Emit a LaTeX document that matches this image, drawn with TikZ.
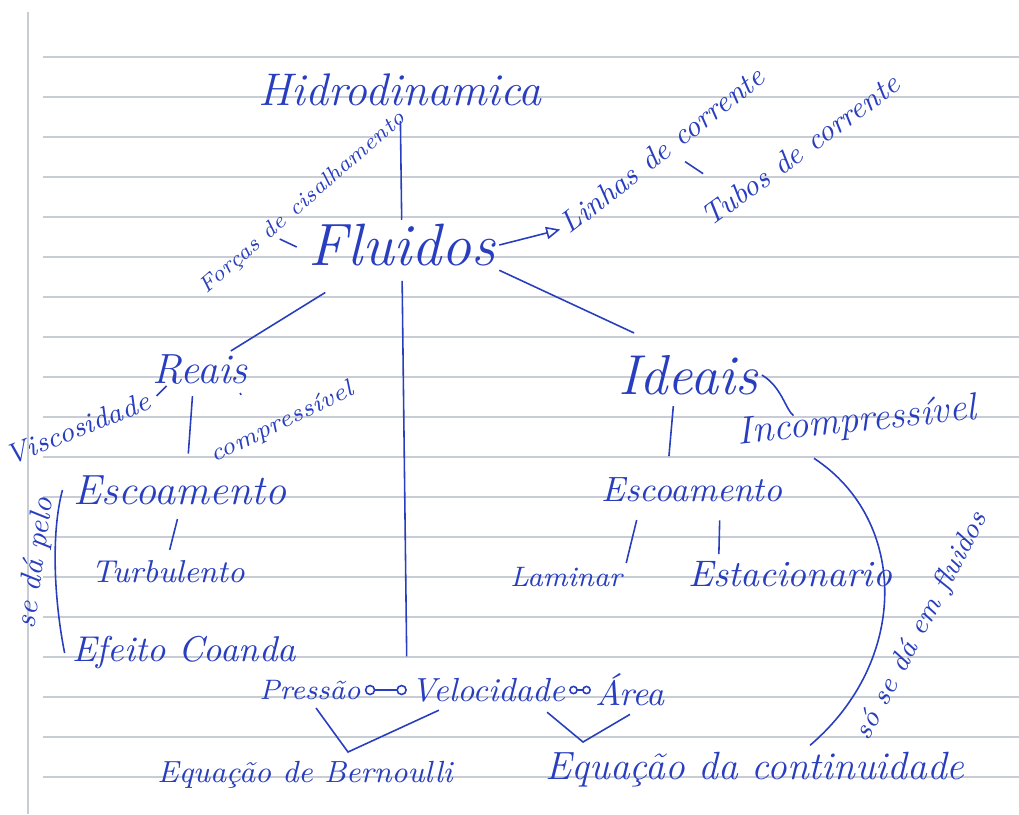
\documentclass[tikz,border=0pt]{standalone}
\usepackage{fontspec}
\usetikzlibrary{positioning,calc,arrows.meta}
\definecolor{ink}{RGB}{40,62,190}
\definecolor{paperline}{RGB}{200,204,212}
\newcommand{\hand}[1]{\fontsize{#1}{#1}\selectfont\itshape}

\begin{document}
\begin{tikzpicture}[x=0.01cm,y=-0.01cm]
        \tikzstyle{word}=[text=ink,inner sep=1pt]
        \tikzstyle{link}=[draw=ink,line width=0.45pt]
        \tikzstyle{ruled}=[draw=paperline,line width=0.55pt]

        \useasboundingbox (0,0) rectangle (1019,814);

        % Paper
        \draw[ruled] (28,12) -- (28,814);
        \foreach \k in {0,...,18}
            \draw[ruled] (43,{57+40*\k}) -- (1019,{57+40*\k});

        % Top
        \node[word,font=\hand{13}] (hidro) at (400,90) {Hidrodinamica};
        \node[word,font=\hand{17}] (fluidos) at (402,245) {Fluidos};
        \node[word,font=\hand{8.5},rotate=38] (linhas) at (662,150) {Linhas de corrente};
        \node[word,font=\hand{8.5},rotate=36] (tubos) at (800,150) {Tubos de corrente};
        \node[word,font=\hand{6.3},rotate=41] (forcas) at (303,203) {Forças de cisalhamento};

        % Reais side
        \node[word,font=\hand{12}] (reais) at (200,370) {Reais};
        \node[word,font=\hand{8},rotate=22] (visc) at (78,428) {Viscosidade};
        \node[word,font=\hand{7},rotate=26] (compr) at (282,423) {compressível};
        \node[word,font=\hand{12}] (escL) at (180,490) {Escoamento};
        \node[word,font=\hand{9}] (turb) at (168,572) {Turbulento};
        \node[word,font=\hand{10.2}] (coanda) at (184,653) {Efeito Coanda};
        \node[word,font=\hand{8.5},rotate=82] (pelo) at (36,563) {se dá pelo};

        % Ideais side
        \node[word,font=\hand{16}] (ideais) at (688,375) {Ideais};
        \node[word,font=\hand{10}] (escR) at (692,490) {Escoamento};
        \node[word,font=\hand{8}] (laminar) at (566,577) {Laminar};
        \node[word,font=\hand{10.5}] (estac) at (790,574) {Estacionario};
        \node[word,font=\hand{11},rotate=6] (incomp) at (857,422) {Incompressível};
        \node[word,font=\hand{8},rotate=62] (soem) at (922,626) {só se dá em fluidos};

        % Bottom
        \node[word,font=\hand{8}] (pressao) at (310,690) {Pressão};
        \node[word,font=\hand{9.5}] (veloc) at (488,690) {Velocidade};
        \node[word,font=\hand{10}] (area) at (630,690) {Área};
        \node[word,font=\hand{8.7}] (bern) at (305,775) {Equação de Bernoulli};
        \node[word,font=\hand{11.2}] (cont) at (755,770) {Equação da continuidade};

        % Connect nodes
        \draw[link,shorten <=3pt] (hidro) -- (fluidos);
        \draw[link,-{Triangle[open,length=4pt,width=3.5pt]}] (fluidos.east) -- (linhas.west);
        \draw[link] ($(linhas.south)+(14,0)$) -- ($(linhas.south)+(32,12)$);
        \draw[link] ($(fluidos.west)+(-25,-6)$) -- ($(fluidos.west)+(-8,2)$);
        \draw[link,shorten <=12pt] (fluidos) -- (reais);
        \draw[link] (fluidos.south east) -- ($(ideais.north west)+(20,-18)$);
        \draw[link,shorten <=3pt,shorten >=5pt] (fluidos.south) -- (veloc.north west);

        \draw[link] ($(visc.east)+(4,-2)$) -- ($(visc.east)+(14,-12)$);
        \draw[link,shorten <=2pt,shorten >=5pt] ([xshift=-2pt]reais.south) -- ([xshift=2pt]escL.north);
        \draw[link,shorten >=3pt] ($(reais.south east)+(-12,4)$) -- ($(compr.north)+(-28,-6)$);
        \draw[link,shorten <=3pt,shorten >=2pt] (escL.south) -- (turb.north);
        \draw[link] ([xshift=-2pt]escL.west) .. controls +(-12,45) and +(-10,-50) .. ([xshift=-1pt]coanda.west);

        \draw[link,shorten <=2pt,shorten >=5pt] ([xshift=-4pt]ideais.south) -- ([xshift=-7pt]escR.north);
        \draw[link,shorten <=4pt] ($(escR.south)+(-52,0)$) -- (laminar.north east);
        \draw[link,shorten <=4pt] ($(escR.south)+(28,0)$) -- ($(estac.north west)+(35,-3)$);
        \draw[link] (ideais.east) .. controls +(20,12) and +(-8,-6) .. ($(incomp.north west)+(62,2)$);
        \draw[link] ($(incomp.south west)+(78,2)$) .. controls (908,520) and (910,660) .. ($(cont.north)+(55,-3)$);

        \draw[link,{Circle[open,length=3pt]}-{Circle[open,length=3pt]}] (pressao) -- (veloc);
        \draw[link,{Circle[open,length=2.5pt]}-{Circle[open,length=2.5pt]}] (veloc) -- (area);
        \coordinate (bern tip) at (348,752);
        \coordinate (cont tip) at (583,742);
        \draw[link] ($(pressao.south)+(6,4)$) -- (bern tip) -- ($(veloc.south west)+(32,4)$);
        \draw[link] ($(veloc.south east)+(-22,6)$) -- (cont tip) -- ($(area.south)+(0,4)$);

    \end{tikzpicture}
\end{document}
